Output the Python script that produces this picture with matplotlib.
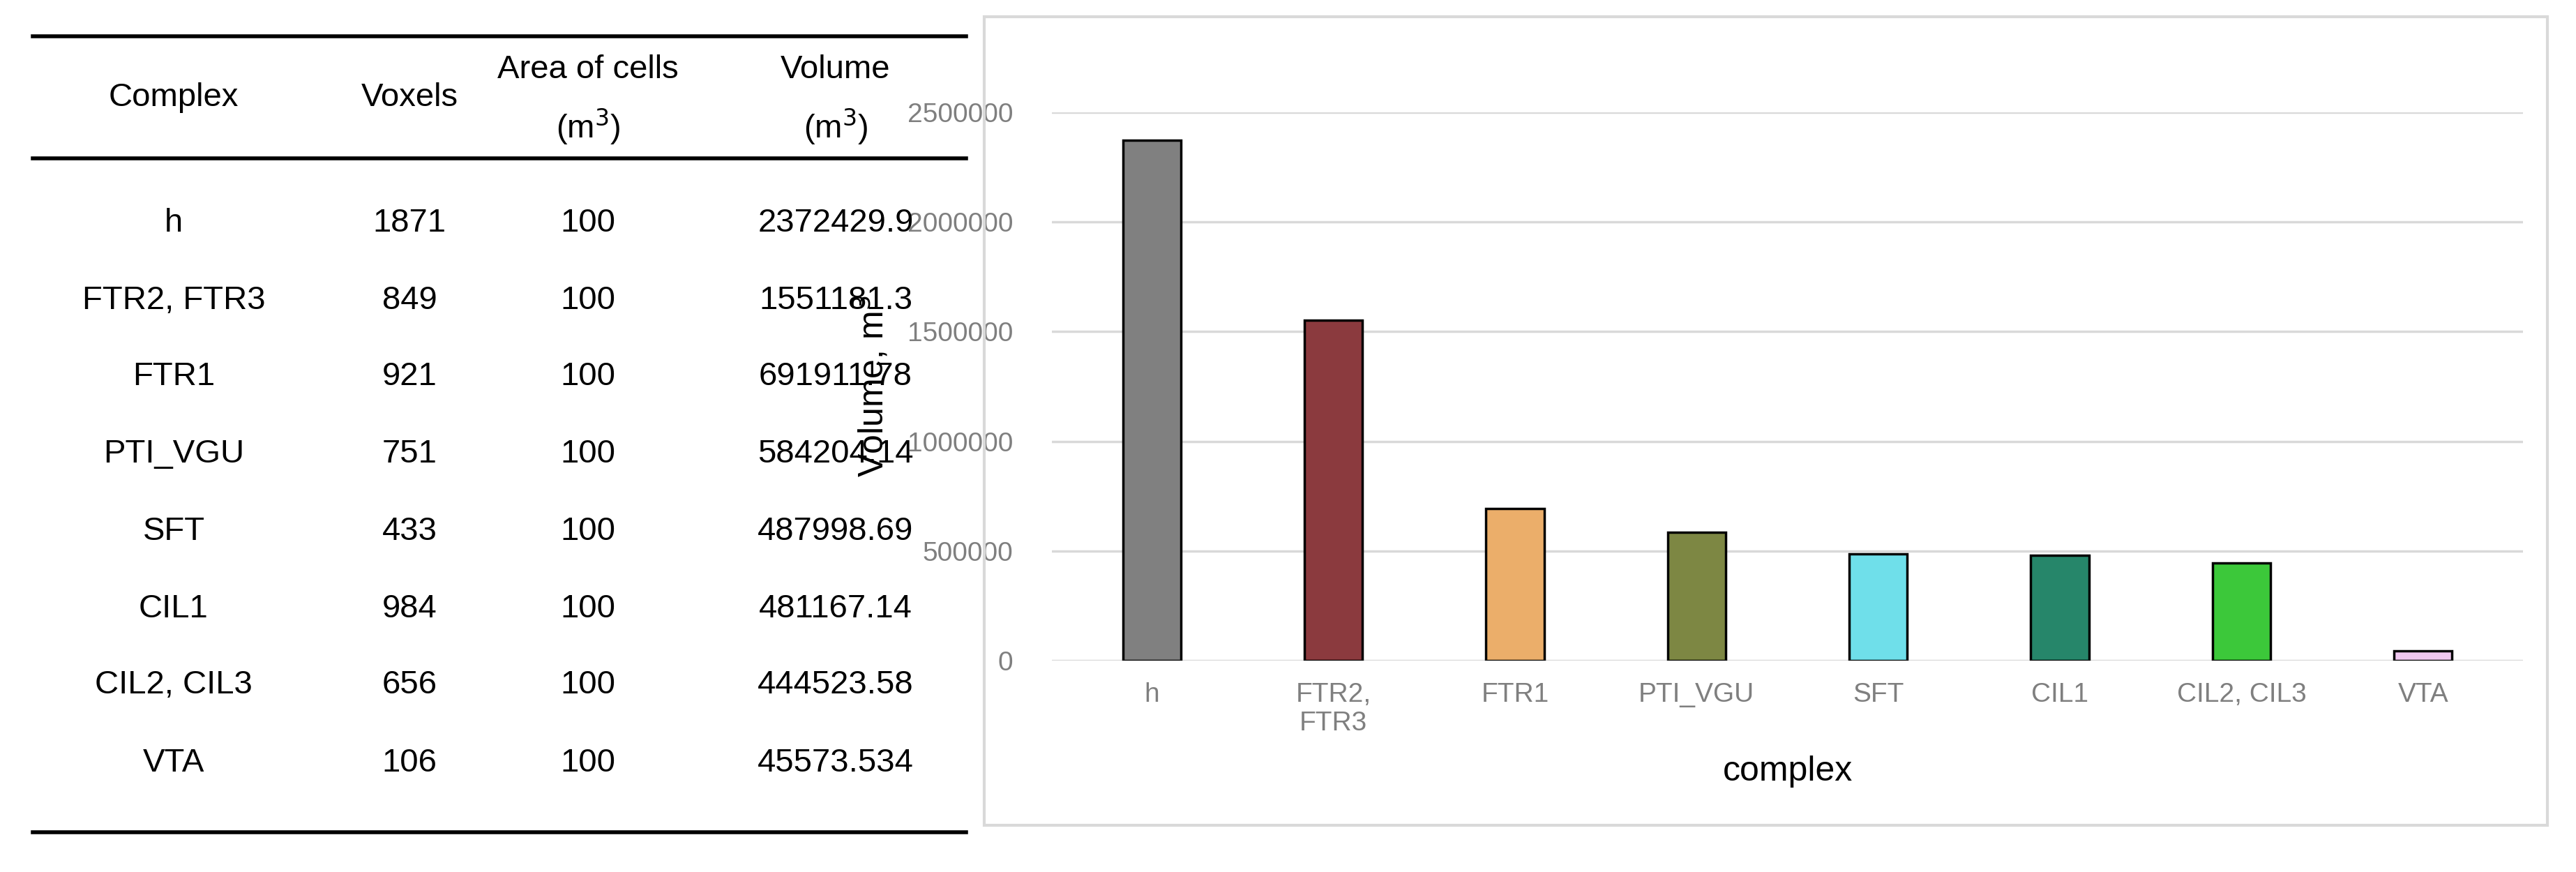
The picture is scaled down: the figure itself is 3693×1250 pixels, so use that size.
import matplotlib.pyplot as plt
from matplotlib.patches import Rectangle
from matplotlib.ticker import FuncFormatter

# data
complexes = ["h", "FTR2, FTR3", "FTR1", "PTI_VGU", "SFT", "CIL1", "CIL2, CIL3", "VTA"]
voxels = ["1871", "849", "921", "751", "433", "984", "656", "106"]
area = ["100"] * 8
volume_txt = ["2372429.9", "1551181.3", "691911.78", "584204.14",
              "487998.69", "481167.14", "444523.58", "45573.534"]
volume = [2372429.9, 1551181.3, 691911.78, 584204.14,
          487998.69, 481167.14, 444523.58, 45573.534]
tick_labels = ["h", "FTR2,\nFTR3", "FTR1", "PTI_VGU", "SFT", "CIL1", "CIL2, CIL3", "VTA"]
bar_colors = ["#808080", "#8B3A3E", "#EBAE6A", "#7D8743",
              "#6FDFEA", "#26866A", "#3CC83A", "#F0C8F0"]

W, H = 3693, 1250
plt.rcParams['font.family'] = ['Liberation Sans', 'DejaVu Sans']
fig = plt.figure(figsize=(W / 100, H / 100), dpi=100)

def fx(px): return px / W
def fy(py): return 1 - py / H

# ---- table ----
col_x = [249, 587, 843, 1198]
fs = 34
for y in (52, 227, 1193):
    fig.add_artist(plt.Line2D([fx(47), fx(1385)], [fy(y), fy(y)], color="black", lw=4))
fig.text(fx(col_x[0]), fy(140), "Complex", ha="center", va="center", fontsize=fs)
fig.text(fx(col_x[1]), fy(140), "Voxels", ha="center", va="center", fontsize=fs)
fig.text(fx(col_x[2]), fy(100), "Area of cells", ha="center", va="center", fontsize=fs)
fig.text(fx(col_x[2]), fy(182), r"(m$^3$)", ha="center", va="center", fontsize=fs)
fig.text(fx(col_x[3]), fy(100), "Volume", ha="center", va="center", fontsize=fs)
fig.text(fx(col_x[3]), fy(182), r"(m$^3$)", ha="center", va="center", fontsize=fs)
row_y = [320, 431, 540, 651, 762, 873, 982, 1094]
for i, yy in enumerate(row_y):
    for cx, val in zip(col_x, [complexes[i], voxels[i], area[i], volume_txt[i]]):
        fig.text(fx(cx), fy(yy), val, ha="center", va="center", fontsize=fs)

# ---- chart ----
fig.add_artist(Rectangle((fx(1411), fy(1183)), fx(3652) - fx(1411), fy(24) - fy(1183),
                         transform=fig.transFigure, fill=False, edgecolor="#d9d9d9", lw=3))
ax = fig.add_axes([fx(1508), fy(947), fx(3617) - fx(1508), fy(161) - fy(947)])
x = range(len(volume))
ax.bar(x, volume, width=0.32, color=bar_colors, edgecolor="black", linewidth=2.5, zorder=3)
ax.set_ylim(0, 2500000)
ax.set_xlim(-0.55, len(volume) - 0.45)
ax.set_yticks(range(0, 2500001, 500000))
ax.yaxis.set_major_formatter(FuncFormatter(lambda v, p: f"{int(v)}"))
ax.yaxis.grid(True, color="#d9d9d9", lw=2.5, zorder=0)
ax.set_xticks(list(x))
ax.set_xticklabels(tick_labels, fontsize=28, color="#7f7f7f", va="top")
ax.tick_params(axis="y", labelsize=28, labelcolor="#7f7f7f", length=0, pad=40)
ax.tick_params(axis="x", length=0, pad=22)
for s in ax.spines.values():
    s.set_visible(False)
ax.set_xlabel("complex", fontsize=36, labelpad=20)
ax.set_ylabel(r"Volume, m$^3$", fontsize=36, labelpad=18)

fig.savefig("out.png", dpi=100, facecolor="white")
